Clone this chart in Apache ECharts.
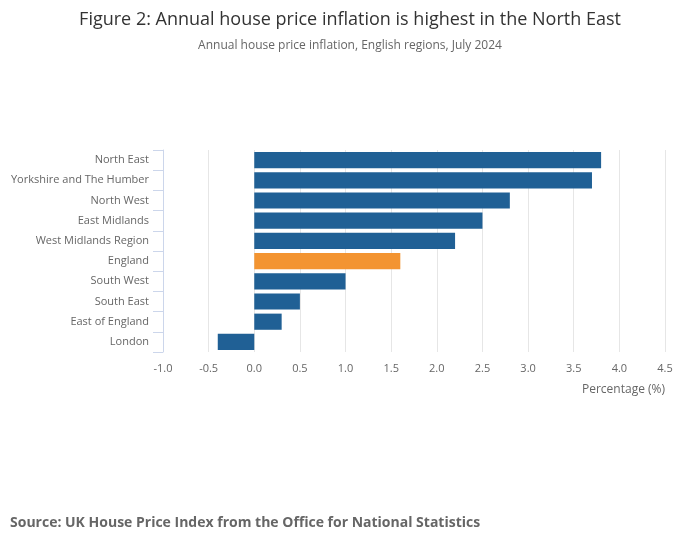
<!DOCTYPE html>
<html>
<head>
<meta charset="utf-8">
<script src="https://cdn.jsdelivr.net/npm/echarts@6/dist/echarts.min.js"></script>
<style>
  html, body { margin: 0; padding: 0; background: #fff; }
  #chart { width: 700px; height: 549px; }
</style>
</head>
<body>
<div id="chart"></div>
<script>
// regions, top to bottom
var regions = [
  'North East', 'Yorkshire and The Humber', 'North West', 'East Midlands',
  'West Midlands Region', 'England', 'South West', 'South East',
  'East of England', 'London'
];
var inflation = [3.8, 3.7, 2.8, 2.5, 2.2, 1.6, 1.0, 0.5, 0.3, -0.4];
var highlight = 'England';

(function() {
  var chartDom = document.getElementById('chart');
  var myChart = echarts.init(chartDom);
  var option;

  var font = '"Open Sans", "Noto Sans", sans-serif';

  option = {
    textStyle: { fontFamily: font },
    title: [
      {
        text: 'Figure 2: Annual house price inflation is highest in the North East',
        left: 'center',
        top: 6,
        textStyle: { color: '#333', fontSize: 18, fontWeight: 'normal', fontFamily: font }
      },
      {
        text: 'Annual house price inflation, English regions, July 2024',
        left: 'center',
        top: 35,
        textStyle: { color: '#666', fontSize: 12, fontWeight: 'normal', fontFamily: font }
      },
      {
        text: 'Source: UK House Price Index from the Office for National Statistics',
        left: 5,
        top: 511,
        textStyle: { color: '#666', fontSize: 14, fontWeight: 'bold', fontFamily: font }
      }
    ],
    grid: {
      left: 163,
      right: 35,
      top: 150,
      height: 202
    },
    xAxis: {
      type: 'value',
      min: -1,
      max: 4.5,
      interval: 0.5,
      name: 'Percentage (%)',
      nameLocation: 'end',
      nameGap: 0,
      nameTextStyle: {
        color: '#666',
        fontSize: 12,
        align: 'right',
        verticalAlign: 'top',
        padding: [32, 0, 0, 0]
      },
      axisLine: { show: false },
      axisTick: { show: false },
      axisLabel: {
        color: '#666',
        fontSize: 11,
        margin: 11,
        formatter: function(v) { return v.toFixed(1); }
      },
      splitLine: { lineStyle: { color: '#e6e6e6' } }
    },
    yAxis: {
      type: 'category',
      inverse: true,
      data: regions,
      z: 3,
      axisLine: { show: true, onZero: false, lineStyle: { color: '#ccd6eb', width: 1 } },
      axisTick: { show: true, length: 10, lineStyle: { color: '#ccd6eb', width: 1 } },
      axisLabel: { color: '#666', fontSize: 11, margin: 14 },
      splitLine: { show: false }
    },
    series: [
      {
        type: 'bar',
        barCategoryGap: '20%',
        data: inflation.map(function(v, i) {
          return {
            value: v,
            itemStyle: { color: regions[i] === highlight ? '#f39431' : '#206095' }
          };
        })
      }
    ]
  };

  option && myChart.setOption(option);
  window.addEventListener("resize", function() {
    myChart.resize();
  });
})();
</script>
</body>
</html>
